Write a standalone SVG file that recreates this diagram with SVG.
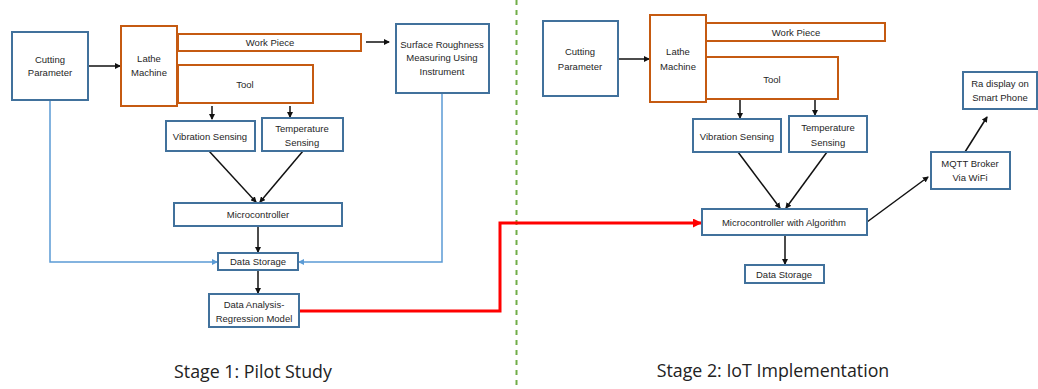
<svg xmlns="http://www.w3.org/2000/svg" width="1038" height="389" viewBox="0 0 1038 389">
<style>
.b{fill:#fff;stroke:#41719C;stroke-width:2}
.o{fill:#fff;stroke:#C55A11;stroke-width:2}
.t{font-family:"Liberation Sans","Open Sans",sans-serif;font-size:9.5px;fill:#262626;text-anchor:middle}
.s{font-family:"Open Sans","Liberation Sans",sans-serif;font-size:17.8px;fill:#222;text-anchor:middle}
.k{stroke:#111;stroke-width:1.5;fill:none}
.lb{stroke:#5B9BD5;stroke-width:1.5;fill:none}
</style>
<defs>
<marker id="ak" markerWidth="6" markerHeight="6" refX="5" refY="3" orient="auto" markerUnits="userSpaceOnUse"><path d="M0,0 L6,3 L0,6 Z" fill="#111"/></marker>
<marker id="ab" markerWidth="6" markerHeight="6" refX="5" refY="3" orient="auto" markerUnits="userSpaceOnUse"><path d="M0,0 L6,3 L0,6 Z" fill="#5B9BD5"/></marker>
<marker id="ar" markerWidth="9" markerHeight="9" refX="8" refY="4.5" orient="auto" markerUnits="userSpaceOnUse"><path d="M0,0 L9,4.5 L0,9 Z" fill="#FF0000"/></marker>
</defs>
<rect width="1038" height="389" fill="#fff"/>
<line x1="516.5" y1="0" x2="516.5" y2="389" stroke="#70AD47" stroke-width="2" stroke-dasharray="5,5"/>
<g id="connectors">
<line class="k" x1="88" y1="66" x2="120" y2="66" marker-end="url(#ak)"/>
<line class="k" x1="366" y1="42" x2="389" y2="42" marker-end="url(#ak)"/>
<line class="k" x1="212" y1="106" x2="212" y2="119" marker-end="url(#ak)"/>
<line class="k" x1="290" y1="106" x2="290" y2="117" marker-end="url(#ak)"/>
<line class="k" x1="209" y1="151" x2="256" y2="202" marker-end="url(#ak)"/>
<line class="k" x1="303" y1="151" x2="260" y2="202" marker-end="url(#ak)"/>
<line class="k" x1="258" y1="226" x2="258" y2="252" marker-end="url(#ak)"/>
<line class="k" x1="258" y1="270" x2="258" y2="293" marker-end="url(#ak)"/>
<polyline class="lb" points="50,100 50,262 217,262" marker-end="url(#ab)"/>
<polyline class="lb" points="442,93 442,262 299,262" marker-end="url(#ab)"/>
<polyline points="299,311 500,311 500,223 701,223" fill="none" stroke="#FF0000" stroke-width="3" marker-end="url(#ar)"/>
<line class="k" x1="618" y1="59" x2="649" y2="59" marker-end="url(#ak)"/>
<line class="k" x1="740" y1="100" x2="740" y2="118" marker-end="url(#ak)"/>
<line class="k" x1="815" y1="100" x2="815" y2="115" marker-end="url(#ak)"/>
<line class="k" x1="738" y1="152" x2="780" y2="208" marker-end="url(#ak)"/>
<line class="k" x1="827" y1="152" x2="786" y2="208" marker-end="url(#ak)"/>
<line class="k" x1="785" y1="235" x2="785" y2="264" marker-end="url(#ak)"/>
<line class="k" x1="867" y1="222" x2="928" y2="177" marker-end="url(#ak)"/>
<line class="k" x1="965" y1="152" x2="987" y2="117" marker-end="url(#ak)"/>
</g>
<g id="s1-cutting"><rect class="b" x="12" y="32" width="76" height="68"/><text class="t" x="50" y="63">Cutting</text><text class="t" x="50" y="76">Parameter</text></g>
<g id="s1-lathe"><rect class="o" x="121" y="26" width="56" height="80"/><text class="t" x="149" y="62">Lathe</text><text class="t" x="149" y="76">Machine</text></g>
<g id="s1-workpiece"><rect class="o" x="178" y="34" width="183" height="17"/><text class="t" x="270" y="46">Work Piece</text></g>
<g id="s1-tool"><rect class="o" x="178" y="65" width="135" height="38"/><text class="t" x="245" y="88">Tool</text></g>
<g id="s1-surface"><rect class="b" x="396" y="24" width="93" height="69"/><text class="t" x="442" y="48">Surface Roughness</text><text class="t" x="442" y="61">Measuring Using</text><text class="t" x="442" y="75">Instrument</text></g>
<g id="s1-vib"><rect class="b" x="166" y="121" width="89" height="30"/><text class="t" x="210" y="140">Vibration Sensing</text></g>
<g id="s1-temp"><rect class="b" x="262" y="118" width="81" height="33"/><text class="t" x="302" y="132">Temperature</text><text class="t" x="302" y="146">Sensing</text></g>
<g id="s1-micro"><rect class="b" x="174" y="203" width="168" height="23"/><text class="t" x="258" y="218">Microcontroller</text></g>
<g id="s1-storage"><rect class="b" x="218" y="253" width="80" height="17"/><text class="t" x="258" y="265">Data Storage</text></g>
<g id="s1-analysis"><rect class="b" x="209" y="294" width="90" height="33"/><text class="t" x="254" y="308">Data Analysis-</text><text class="t" x="254" y="322">Regression Model</text></g>
<text class="s" x="253" y="378">Stage 1: Pilot Study</text>
<g id="s2-cutting"><rect class="b" x="543" y="21" width="75" height="75"/><text class="t" x="580" y="55">Cutting</text><text class="t" x="580" y="70">Parameter</text></g>
<g id="s2-lathe"><rect class="o" x="650" y="15" width="56" height="87"/><text class="t" x="678" y="55">Lathe</text><text class="t" x="678" y="70">Machine</text></g>
<g id="s2-workpiece"><rect class="o" x="706" y="23" width="179" height="18"/><text class="t" x="796" y="36">Work Piece</text></g>
<g id="s2-tool"><rect class="o" x="706" y="57" width="132" height="42"/><text class="t" x="772" y="83">Tool</text></g>
<g id="s2-vib"><rect class="b" x="693" y="119" width="88" height="33"/><text class="t" x="737" y="140">Vibration Sensing</text></g>
<g id="s2-temp"><rect class="b" x="789" y="116" width="78" height="36"/><text class="t" x="828" y="131">Temperature</text><text class="t" x="828" y="146">Sensing</text></g>
<g id="s2-micro"><rect class="b" x="702" y="209" width="165" height="26"/><text class="t" x="784" y="226">Microcontroller with Algorithm</text></g>
<g id="s2-storage"><rect class="b" x="745" y="265" width="79" height="18"/><text class="t" x="784" y="278">Data Storage</text></g>
<g id="s2-mqtt"><rect class="b" x="931" y="152" width="79" height="37"/><text class="t" x="970" y="167">MQTT Broker</text><text class="t" x="970" y="181">Via WiFi</text></g>
<g id="s2-ra"><rect class="b" x="963" y="72" width="74" height="37"/><text class="t" x="1000" y="87">Ra display on</text><text class="t" x="1000" y="101">Smart Phone</text></g>
<text class="s" x="773" y="377">Stage 2: IoT Implementation</text>
</svg>
